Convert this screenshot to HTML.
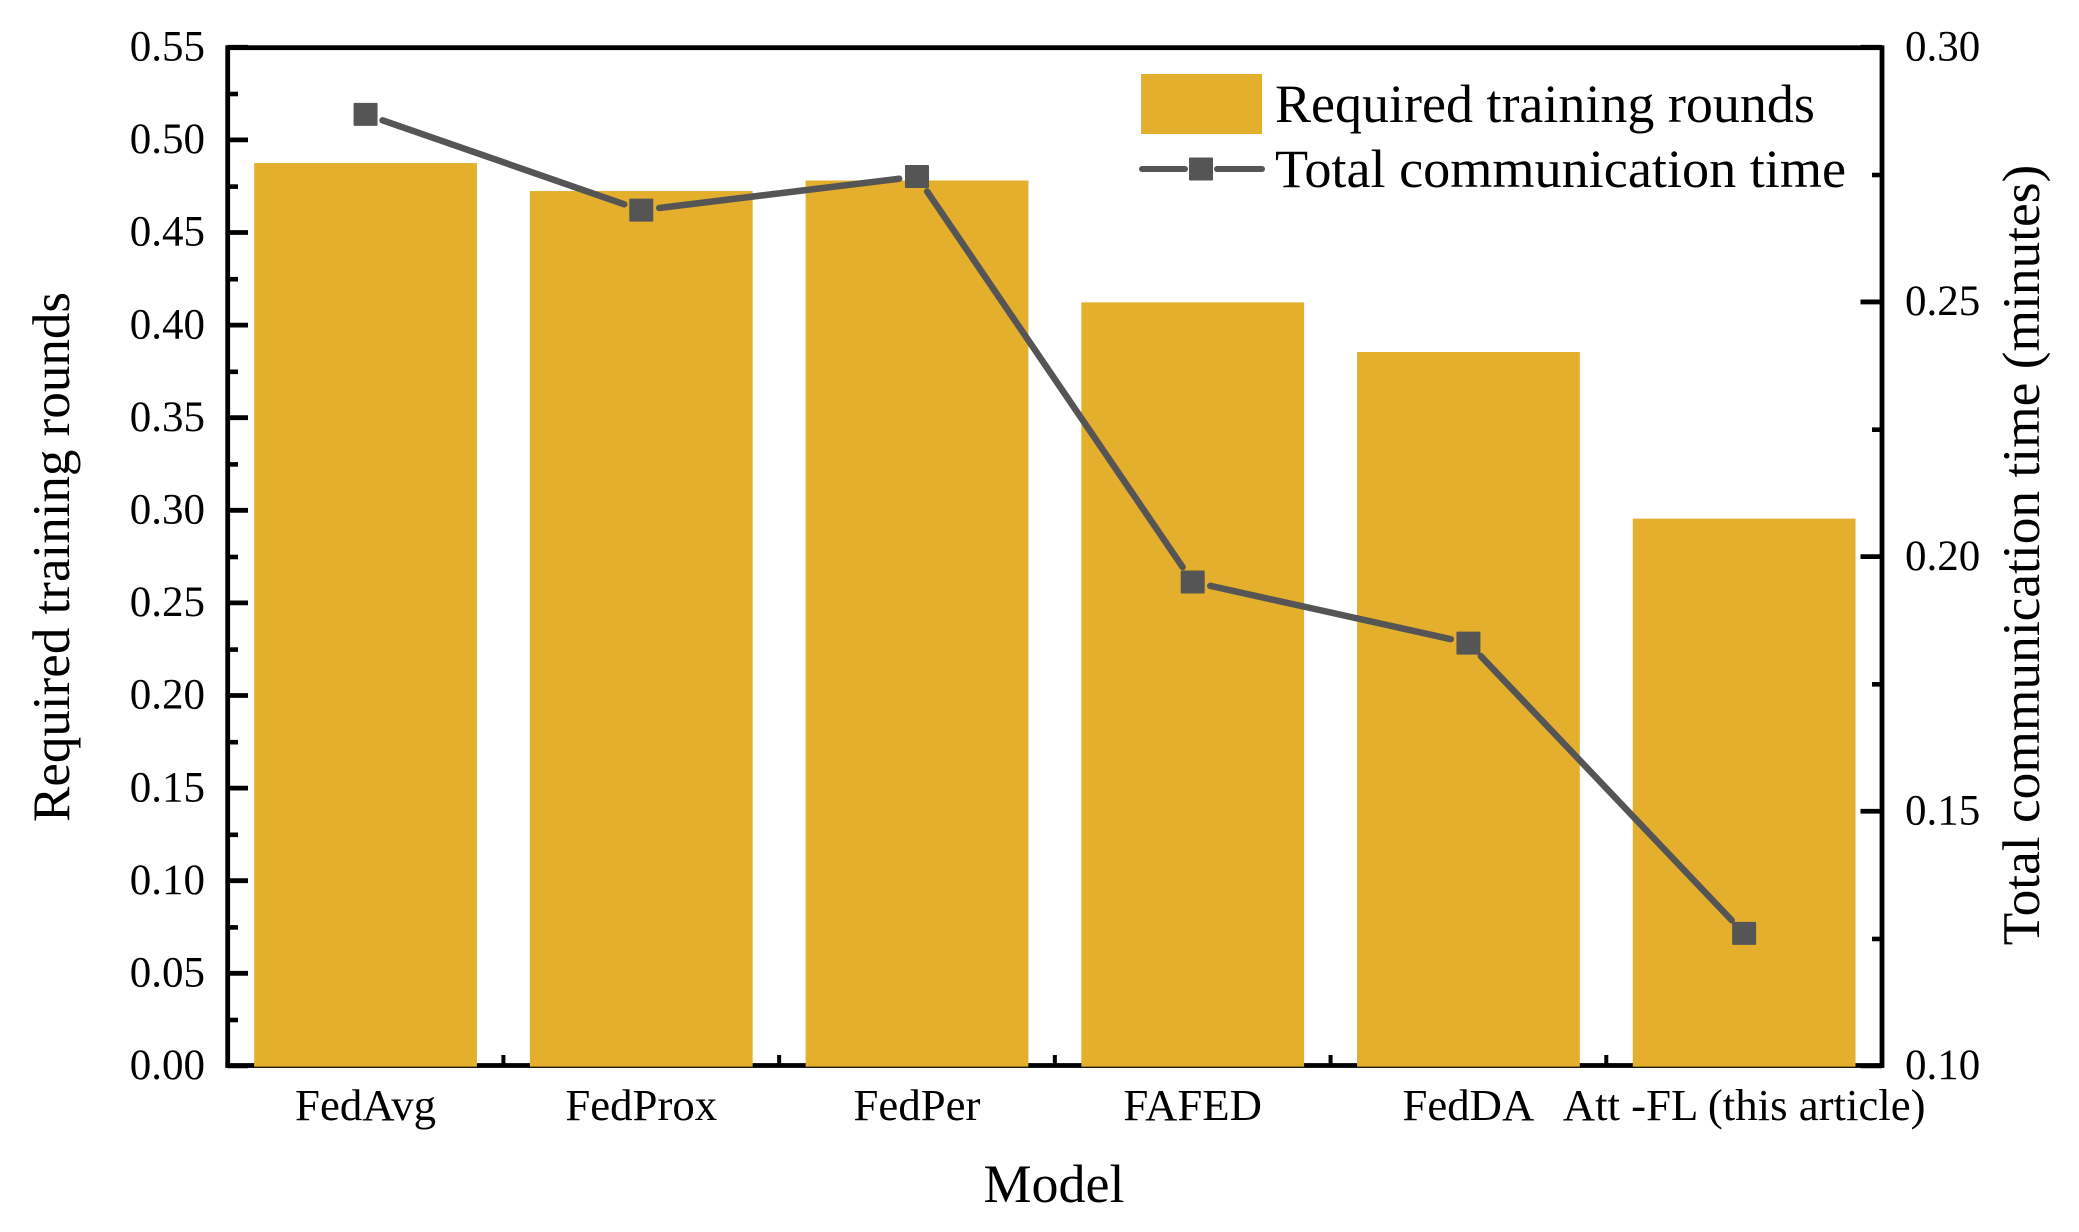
<!DOCTYPE html>
<html lang="en">
<head>
<meta charset="utf-8">
<title>Required training rounds and total communication time by model</title>
<style>
html,body{margin:0;padding:0;background:#fff;}
svg{display:block;}
text{font-family:"Liberation Serif",serif;fill:#000;}
</style>
</head>
<body>
<svg id="chart" width="2079" height="1232" viewBox="0 0 2079 1232" xmlns="http://www.w3.org/2000/svg">
  <rect x="0" y="0" width="2079" height="1232" fill="#ffffff"/>
  <g id="axes"></g>
  <g id="bars"></g>
  <g id="line"></g>
  <text transform="translate(69,557) rotate(-90)" text-anchor="middle" font-size="53">Required training rounds</text>
  <text transform="translate(2039,555) rotate(-90)" text-anchor="middle" font-size="53.4">Total communication time (minutes)</text>
  <text x="1054" y="1202" text-anchor="middle" font-size="54">Model</text>
  <g>
    <rect x="1141" y="74" width="121" height="60" fill="#E4AF2D"/>
    <text x="1275" y="122" font-size="54">Required training rounds</text>
    <line x1="1142" y1="169" x2="1185" y2="169" stroke="#555555" stroke-width="6" stroke-linecap="round"/>
    <line x1="1217" y1="169" x2="1262" y2="169" stroke="#555555" stroke-width="6" stroke-linecap="round"/>
    <rect x="1189" y="157.5" width="24" height="23" rx="1" fill="#555555"/>
    <text x="1275" y="187" font-size="54.2">Total communication time</text>
  </g>
</svg>
<script>
const categories = ["FedAvg", "FedProx", "FedPer", "FAFED", "FedDA", "Att -FL (this article)"];
const trainingRounds = [0.4877, 0.4726, 0.4783, 0.4125, 0.3857, 0.2957];
const communicationTime = [0.2869, 0.2681, 0.2747, 0.1951, 0.1831, 0.1261];
const leftTicks = ["0.00", "0.05", "0.10", "0.15", "0.20", "0.25", "0.30", "0.35", "0.40", "0.45", "0.50", "0.55"];
const leftMinorTicks = [0.025, 0.075, 0.125, 0.175, 0.225, 0.275, 0.325, 0.375, 0.425, 0.475, 0.525];
const rightTicks = ["0.10", "0.15", "0.20", "0.25", "0.30"];
const rightMinorTicks = [0.125, 0.175, 0.225, 0.275];

const SVG_NS = "http://www.w3.org/2000/svg";
const plot = { left: 227.7, right: 1882, top: 47.7, bottom: 1066.3 };
const leftDomain = [0, 0.55];
const rightDomain = [0.1, 0.3];
const band = (plot.right - plot.left) / categories.length;

function xCenter(i) { return plot.left + band * (i + 0.5); }
function yLeft(v) { return plot.bottom - (v - leftDomain[0]) / (leftDomain[1] - leftDomain[0]) * (plot.bottom - plot.top); }
function yRight(v) { return plot.bottom - (v - rightDomain[0]) / (rightDomain[1] - rightDomain[0]) * (plot.bottom - plot.top); }
function make(tag, attrs, parent) {
  const el = document.createElementNS(SVG_NS, tag);
  for (const k in attrs) el.setAttribute(k, attrs[k]);
  parent.appendChild(el);
  return el;
}

const axes = document.getElementById("axes");
const barsG = document.getElementById("bars");
const lineG = document.getElementById("line");

const frame = make("rect", { x: plot.left, y: plot.top, width: plot.right - plot.left, height: plot.bottom - 0.8 - plot.top, fill: "none", stroke: "#000", "stroke-width": 4.8 }, axes);



leftTicks.forEach(function (t) {
  const y = yLeft(parseFloat(t));
  const tick = make("line", { x1: plot.left, x2: 248, y1: y - 0.4, y2: y - 0.4, stroke: "#000", "stroke-width": 4.8 }, axes);
  
  
  const label = make("text", { x: 205, y: y + 12.8, "text-anchor": "end", "font-size": 43 }, axes);
  
  
  label.textContent = t;
});
leftMinorTicks.forEach(function (v) {
  const y = yLeft(v);
  const tick = make("line", { x1: plot.left, x2: 238, y1: y, y2: y, stroke: "#000", "stroke-width": 4.6 }, axes);
  
  
});
rightTicks.forEach(function (t) {
  const y = yRight(parseFloat(t));
  const tick = make("line", { x1: plot.right, x2: 1860.5, y1: y - 0.4, y2: y - 0.4, stroke: "#000", "stroke-width": 4.8 }, axes);
  
  
  const label = make("text", { x: 1905, y: y + 12.8, "text-anchor": "start", "font-size": 43 }, axes);
  
  
  label.textContent = t;
});
rightMinorTicks.forEach(function (v) {
  const y = yRight(v);
  const tick = make("line", { x1: plot.right, x2: 1872, y1: y, y2: y, stroke: "#000", "stroke-width": 4.6 }, axes);
  
  
});
categories.forEach(function (c, i) {
  if (i > 0) {
    const bx = plot.left + band * i;
    const tick = make("line", { x1: bx, x2: bx, y1: 1055, y2: 1065, stroke: "#000", "stroke-width": 4 }, axes);
    
    
  }
  const label = make("text", { x: xCenter(i), y: 1120, "text-anchor": "middle", "font-size": 44.8 }, axes);
  
  
  label.textContent = c;
});

const barWidth = band * 0.808;
trainingRounds.forEach(function (v, i) {
  const y = yLeft(v);
  const bar = make("rect", { x: xCenter(i) - barWidth / 2, y: y, width: barWidth, height: plot.bottom + 0.4 - y, fill: "#E4AF2D" }, barsG);
  
  
});

const gap = 18;
for (let i = 0; i < communicationTime.length - 1; i++) {
  const x1 = xCenter(i), y1 = yRight(communicationTime[i]);
  const x2 = xCenter(i + 1), y2 = yRight(communicationTime[i + 1]);
  const d = Math.hypot(x2 - x1, y2 - y1);
  const ux = (x2 - x1) / d, uy = (y2 - y1) / d;
  const seg = make("line", { x1: x1 + ux * gap, y1: y1 + uy * gap, x2: x2 - ux * gap, y2: y2 - uy * gap, stroke: "#555555", "stroke-width": 6.5, "stroke-linecap": "round" }, lineG);
  
  
}
communicationTime.forEach(function (v, i) {
  const marker = make("rect", { x: xCenter(i) - 12, y: yRight(v) - 11.5, width: 24, height: 23, rx: 1, fill: "#555555" }, lineG);
  
  
});
</script>
</body>
</html>
